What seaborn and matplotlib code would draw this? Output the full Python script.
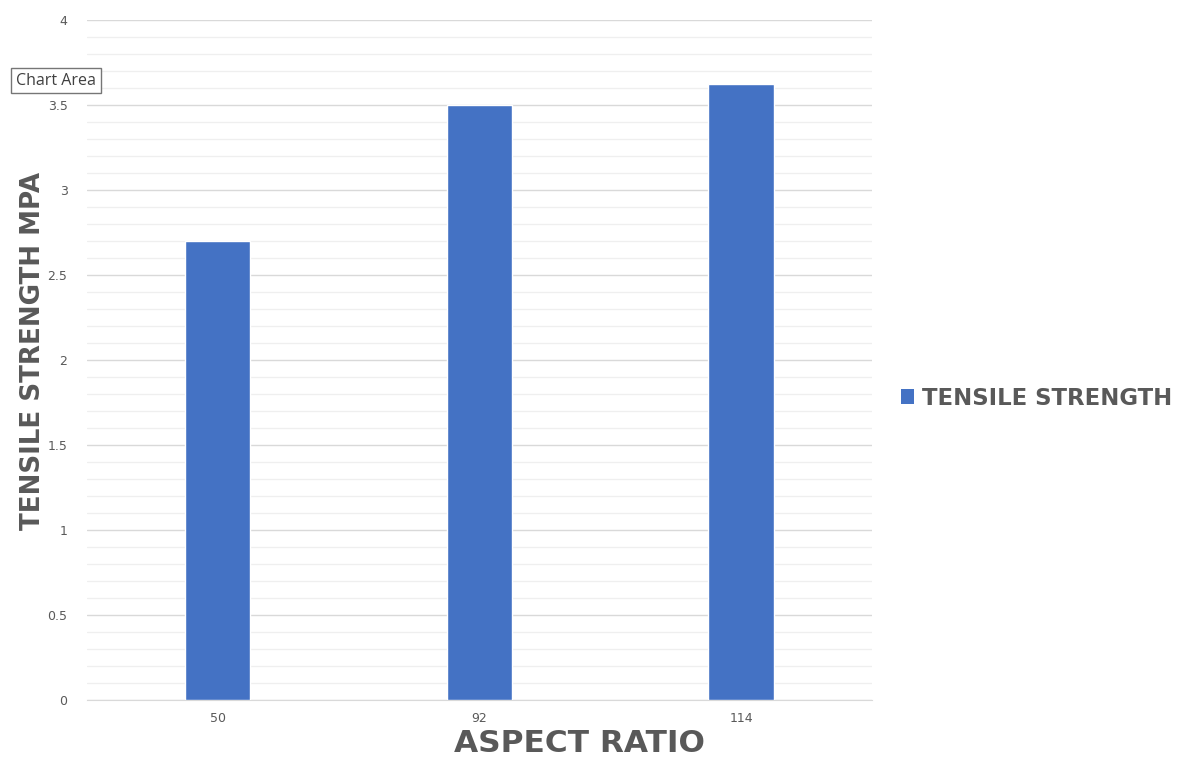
import numpy as np
import pandas as pd
import seaborn as sns
import matplotlib.pyplot as plt
from matplotlib.patches import Patch
from matplotlib.ticker import MultipleLocator

# Datos del gráfico
aspect_ratio = ["50", "92", "114"]
tensile_strength = [2.7, 3.5, 3.62]
series_name = "TENSILE STRENGTH"

df = pd.DataFrame({"aspect": aspect_ratio, "strength": tensile_strength})

sns.set_style("white")
plt.rcParams['font.family'] = ['DejaVu Sans']

fig = plt.figure(figsize=(11.91, 7.6), dpi=100)
ax = fig.add_axes([0.073, 0.079, 0.659, 0.895])

sns.barplot(x="aspect", y="strength", data=df, color="#4472C4", width=0.25,
            saturation=1, ax=ax, zorder=3)

ax.set_xlim(-0.5, 2.5)
ax.set_ylim(0, 4)
ax.yaxis.set_major_locator(MultipleLocator(0.5))
ax.yaxis.set_minor_locator(MultipleLocator(0.1))
ax.set_yticks([0, 0.5, 1, 1.5, 2, 2.5, 3, 3.5, 4])
ax.set_yticklabels(["0", "0.5", "1", "1.5", "2", "2.5", "3", "3.5", "4"])
ax.grid(which="major", axis="y", color="#d9d9d9", linewidth=1.0, zorder=0)
ax.grid(which="minor", axis="y", color="#efefef", linewidth=0.9, zorder=0)
ax.set_axisbelow(True)
for s in ["top", "right", "left"]:
    ax.spines[s].set_visible(False)
ax.spines["bottom"].set_color("#d9d9d9")
ax.tick_params(axis="both", which="both", length=0, colors="#595959", labelsize=9)
ax.tick_params(axis="y", pad=14)
ax.tick_params(axis="x", pad=9)

# Títulos de ejes (colocados en la figura como en el original)
ax.set_xlabel("")
ax.set_ylabel("")
fig.text(579 / 1191, 2 / 760, "ASPECT RATIO", fontsize=22.5, fontweight="heavy",
         color="#595959", ha="center", va="bottom")
fig.text(33 / 1191, (760 - 351) / 760, "TENSILE STRENGTH MPA", fontsize=18.8, fontweight="heavy",
         color="#595959", ha="center", va="center", rotation=90)

# Leyenda
handle = Patch(facecolor="#4472C4", edgecolor="none")
fig.legend([handle], [series_name], loc="center left", bbox_to_anchor=(0.739, 0.476),
           frameon=False, handlelength=0.6, handleheight=0.6, handletextpad=0.35,
           prop={"size": 16.4, "weight": "heavy"}, labelcolor="#595959")

# Etiqueta "Chart Area"
fig.text(0.0135, 0.894, "Chart Area", fontsize=11.5, color="#404040", family="Open Sans",
         va="center", ha="left",
         bbox=dict(boxstyle="square,pad=0.3", facecolor="white", edgecolor="#767676", linewidth=1))

fig.savefig("out.png", dpi=100)
